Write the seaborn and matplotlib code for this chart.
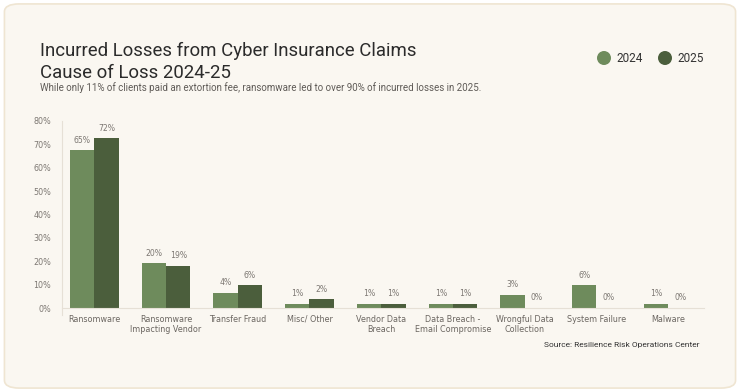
import pandas as pd
import seaborn as sns
import matplotlib.pyplot as plt
from matplotlib.patches import FancyBboxPatch, Circle

# data
causes = ['Ransomware', 'Ransomware\nImpacting Vendor', 'Transfer Fraud', 'Misc/ Other',
          'Vendor Data\nBreach', 'Data Breach -\nEmail Compromise', 'Wrongful Data\nCollection',
          'System Failure', 'Malware']
bars_2024 = [67.4, 19.2, 6.6, 1.7, 1.7, 1.7, 5.6, 9.8, 1.7]
bars_2025 = [72.6, 18.1, 9.8, 3.7, 1.7, 1.7, 0, 0, 0]
labels_2024 = ['65%', '20%', '4%', '1%', '1%', '1%', '3%', '6%', '1%']
labels_2025 = ['72%', '19%', '6%', '2%', '1%', '1%', '0%', '0%', '0%']
years = ['2024', '2025']
colors = ['#6e8b5c', '#4b5e3c']

df = pd.DataFrame({
    'cause': causes * 2,
    'year': [years[0]] * len(causes) + [years[1]] * len(causes),
    'value': bars_2024 + bars_2025,
})

bg = '#faf7f1'
fig = plt.figure(figsize=(7.4, 3.92), dpi=100)
fig.patch.set_facecolor('white')
card = FancyBboxPatch((0.006, 0.01), 0.988, 0.98, boxstyle='round,pad=0,rounding_size=0.02',
                      transform=fig.transFigure, facecolor=bg, edgecolor='#efe5d2', linewidth=1.2,
                      zorder=-10)
fig.add_artist(card)

ax = fig.add_axes([62 / 740, 1 - 308 / 392, 642 / 740, 187 / 392])
ax.patch.set_alpha(0)
sns.barplot(data=df, x='cause', y='value', hue='year', palette=colors, width=0.68,
            saturation=1, ax=ax, legend=False)

for cont, labs in zip(ax.containers, [labels_2024, labels_2025]):
    ax.bar_label(cont, labels=labs, padding=4, fontsize=5.6, color='#7d7873')

ax.set_ylim(0, 80)
ax.set_xlim(-0.45, 8.5)
ax.set_yticks(range(0, 81, 10))
ax.set_yticklabels([f'{v}%' for v in range(0, 81, 10)])
ax.tick_params(axis='y', length=0, pad=8, labelsize=5.8, labelcolor='#7d7873')
ax.tick_params(axis='x', length=0, pad=5, labelsize=5.8, labelcolor='#6b6661')
ax.set_xlabel('')
ax.set_ylabel('')
for s in ['top', 'right']:
    ax.spines[s].set_visible(False)
ax.spines['left'].set_color('#e6e0d6')
ax.spines['bottom'].set_color('#e6e0d6')
ax.spines['left'].set_bounds(-3, 80)

fig.text(40 / 740, 1 - 62 / 392, 'Incurred Losses from Cyber Insurance Claims\nCause of Loss 2024-25',
         fontsize=13.4, family='Roboto', color='#2b2b2b', va='center', linespacing=1.28)
fig.text(40 / 740, 1 - 88 / 392,
         'While only 11% of clients paid an extortion fee, ransomware led to over 90% of incurred losses in 2025.',
         fontsize=7.0, family='Roboto', color='#5f5b57', va='center')

for i, (yr, c) in enumerate(zip(years, colors)):
    x0 = 604 + i * 61
    fig.add_artist(Circle((x0 / 100, (392 - 58) / 100), 0.07, transform=fig.dpi_scale_trans,
                          facecolor=c, edgecolor='none'))
    fig.text((x0 + 12) / 740, 1 - 58 / 392, yr, fontsize=8.5, family='Roboto',
             color='#333333', va='center')

fig.text(700 / 740, 1 - 345 / 392, 'Source: Resilience Risk Operations Center', fontsize=6,
         family='Roboto', color='#333333', ha='right', va='center')

fig.savefig('out.png', dpi=100, facecolor='white')
